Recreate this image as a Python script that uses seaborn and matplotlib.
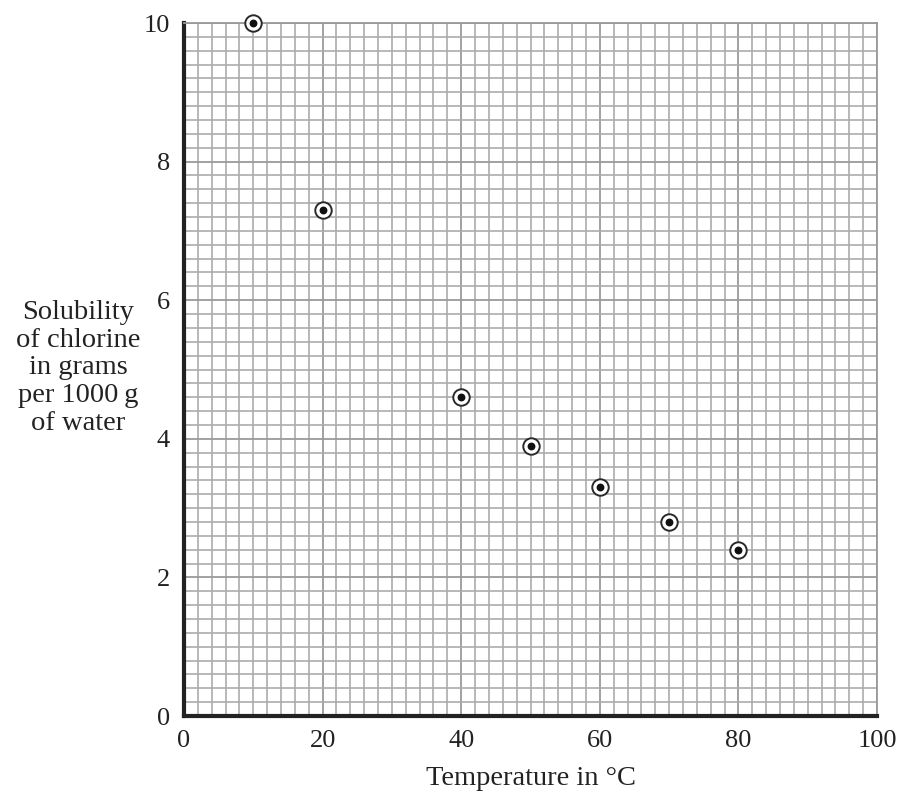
import seaborn as sns
import pandas as pd
import numpy as np
import matplotlib.pyplot as plt

temperature = [10, 20, 40, 50, 60, 70, 80]
solubility = [10.0, 7.3, 4.6, 3.9, 3.3, 2.8, 2.4]
x_ticks = [0, 20, 40, 60, 80, 100]
y_ticks = [0, 2, 4, 6, 8, 10]

data = pd.DataFrame({'Temperature': temperature, 'Solubility': solubility})

sns.set_style('white')
plt.rcParams['font.family'] = ['Liberation Serif', 'DejaVu Serif']

fig = plt.figure(figsize=(9.01, 7.91), dpi=100)
ax = fig.add_axes([0.2042, 0.0948, 0.7692, 0.8761])

# graph paper grid
ax.set_xticks(np.arange(0, 101, 2), minor=True)
ax.set_yticks(np.arange(0, 10.01, 0.2), minor=True)
ax.grid(which='minor', color='#ababab', linewidth=1.2)
ax.grid(which='major', color='#9a9a9a', linewidth=1.3)
ax.set_axisbelow(True)

sns.scatterplot(x='Temperature', y='Solubility', data=data, ax=ax,
                s=140, facecolor='white', edgecolor='#2a2a2a', linewidth=1.4, zorder=3, clip_on=False)
sns.scatterplot(x='Temperature', y='Solubility', data=data, ax=ax,
                s=32, color='#111111', linewidth=0, zorder=4, clip_on=False)

ax.set_xlim(0, 100)
ax.set_ylim(0, 10)
ax.set_xticks(x_ticks)
ax.set_yticks(y_ticks)
ax.tick_params(which='major', direction='out', length=6, width=1, colors='#444444',
               labelsize=19, labelcolor='#222222', pad=4)
ax.tick_params(which='minor', length=0)

for side in ['left', 'bottom']:
    ax.spines[side].set_color('#222222')
    ax.spines[side].set_linewidth(3)
for side in ['top', 'right']:
    ax.spines[side].set_color('#9a9a9a')
    ax.spines[side].set_linewidth(1.3)

ax.set_xlabel('Temperature in °C', fontsize=20.5, color='#222222', labelpad=10)
ax.set_ylabel('')
fig.text(0.087, 0.535, 'Solubility\nof chlorine\nin grams\nper 1000\u2009g\nof water',
         ha='center', va='center', fontsize=20.5, color='#222222', linespacing=1.14,
         family=['Liberation Serif', 'DejaVu Serif'])

fig.savefig('out.png', dpi=100)
